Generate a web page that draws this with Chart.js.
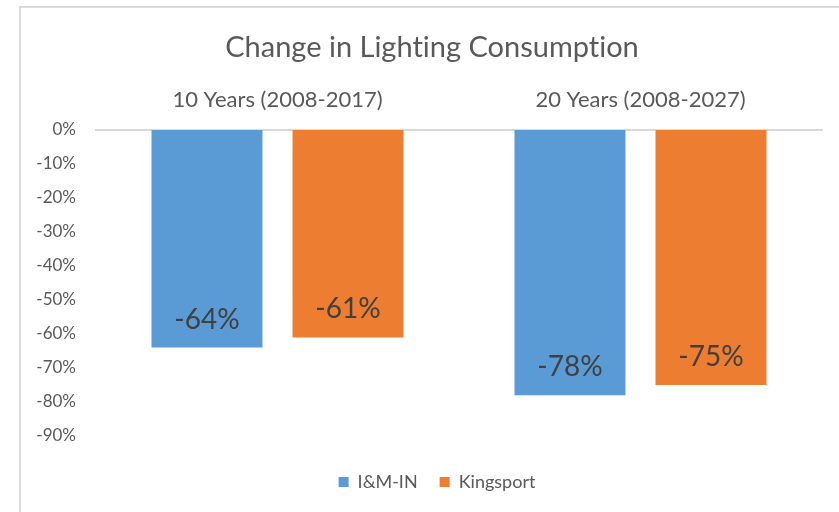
<!DOCTYPE html>
<html>
<head>
<meta charset="utf-8">
<script src="https://cdn.jsdelivr.net/npm/chart.js@4/dist/chart.umd.min.js"></script>
<style>
  html, body { margin: 0; padding: 0; background: #ffffff; }
  #wrap { position: relative; width: 839px; height: 512px; overflow: hidden; }
  #frame { position: absolute; left: 19px; top: 6px; width: 900px; height: 600px;
           border-top: 2px solid #d9d9d9; border-left: 2px solid #d9d9d9; }
  canvas { position: absolute; left: 0; top: 0; }
</style>
</head>
<body>
<div id="wrap">
  <div id="frame"></div>
  <canvas id="c" width="839" height="512"></canvas>
</div>
<script>
const titleText = "Change in Lighting Consumption";
const categories = ["10 Years (2008-2017)", "20 Years (2008-2027)"];
const seriesNames = ["I&M-IN", "Kingsport"];
const imValues = [-64, -78];
const kingsportValues = [-61, -75];
const seriesColors = ["#5B9BD5", "#ED7D31"];
const yMin = -90, yMax = 0, yStep = 10;

const FONT = "Lato, 'Open Sans', sans-serif";

const noLigatures = {
  id: 'noLigatures',
  beforeDraw(chart) {
    try { chart.ctx.textRendering = 'optimizeSpeed'; } catch (e) {}
  }
};

// The original chart frame extends past the right edge of the picture,
// so the title and legend are centred slightly right of the canvas centre.
const shiftBoxes = {
  id: 'shiftBoxes',
  afterLayout(chart) {
    const t = chart.titleBlock, l = chart.legend;
    if (t) { t.left += 21; t.right += 21; }
    if (l) { l.left += 26; l.right += 26; }
  }
};

const valueLabels = {
  id: 'valueLabels',
  afterDatasetsDraw(chart) {
    const ctx = chart.ctx;
    ctx.save();
    ctx.font = "28px " + FONT;
    ctx.fillStyle = "#404040";
    ctx.textAlign = "center";
    ctx.textBaseline = "middle";
    chart.data.datasets.forEach((ds, di) => {
      const meta = chart.getDatasetMeta(di);
      meta.data.forEach((el, i) => {
        ctx.fillText(ds.data[i] + "%", el.x, el.y - 28);
      });
    });
    ctx.restore();
  }
};

new Chart(document.getElementById('c'), {
  type: 'bar',
  data: {
    labels: categories,
    datasets: [
      { label: seriesNames[0], data: imValues, backgroundColor: seriesColors[0],
        categoryPercentage: 0.777, barPercentage: 0.787 },
      { label: seriesNames[1], data: kingsportValues, backgroundColor: seriesColors[1],
        categoryPercentage: 0.777, barPercentage: 0.787 }
    ]
  },
  options: {
    responsive: false,
    animation: false,
    layout: { padding: { left: 0, right: 17, top: 0, bottom: 11 } },
    plugins: {
      title: {
        display: true, text: titleText, color: "#595959",
        font: { family: FONT, size: 29, weight: 'normal' },
        padding: { top: 30, bottom: 9 }
      },
      legend: {
        position: 'bottom',
        labels: {
          color: "#595959", boxWidth: 10, boxHeight: 10, padding: 22,
          font: { family: FONT, size: 18 }
        }
      },
      tooltip: { enabled: false }
    },
    scales: {
      x: {
        position: 'top',
        grid: { display: false, drawTicks: false },
        border: { display: true, color: "#d9d9d9", width: 2 },
        ticks: { color: "#595959", font: { family: FONT, size: 22 }, padding: 17 },
        afterFit: s => { s.height = 56.2; }
      },
      x2: {
        type: 'category', position: 'bottom', labels: categories,
        grid: { display: false, drawTicks: false },
        border: { display: false },
        ticks: { display: false },
        afterFit: s => { s.height = 15; }
      },
      y: {
        min: yMin, max: yMax,
        grid: { display: false, drawTicks: false },
        border: { display: false },
        ticks: { stepSize: yStep, color: "#595959", font: { family: FONT, size: 17 }, padding: 20,
                 callback: v => v + "%" },
        afterFit: s => { s.width = 96; }
      }
    }
  },
  plugins: [noLigatures, shiftBoxes, valueLabels]
});
</script>
</body>
</html>
